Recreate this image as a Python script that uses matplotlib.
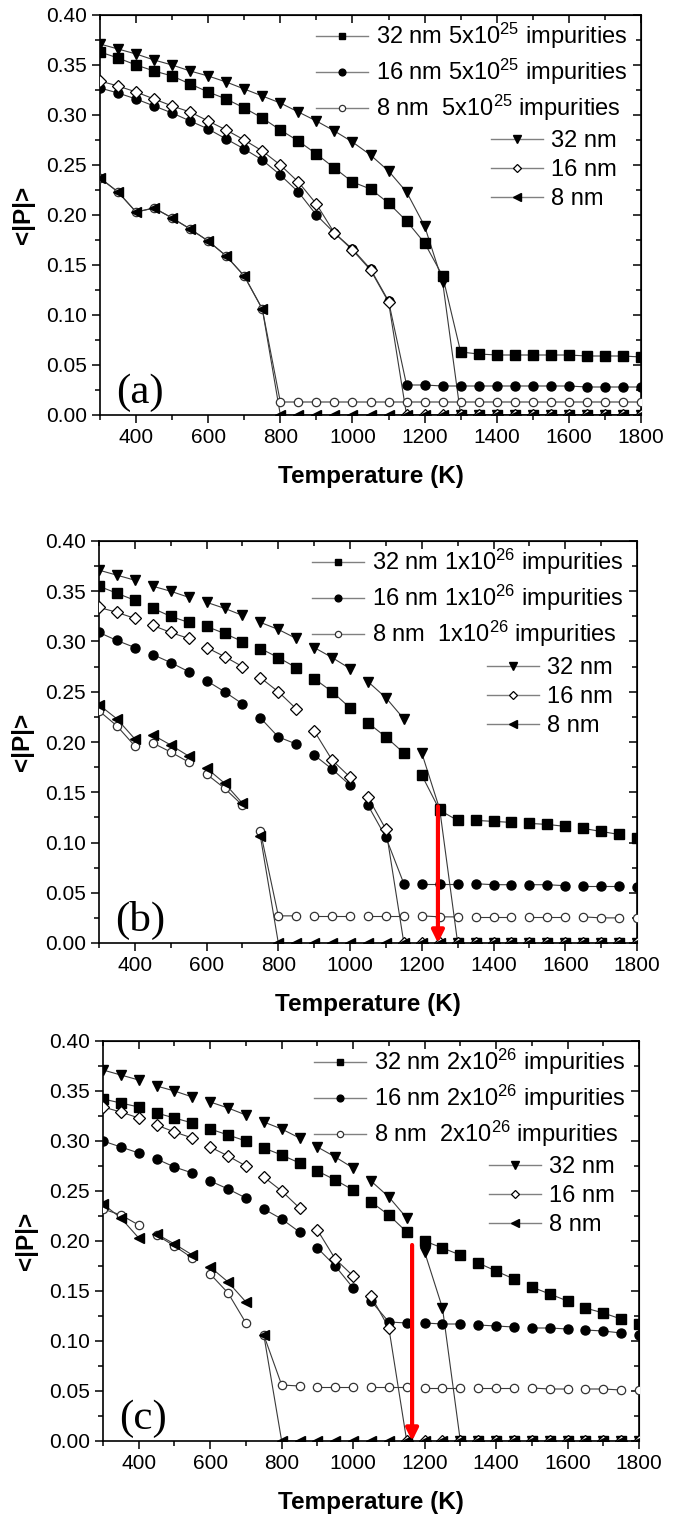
import matplotlib
matplotlib.use("Agg")
import matplotlib.pyplot as plt
from matplotlib.lines import Line2D
from matplotlib.ticker import MultipleLocator, FormatStrFormatter

plt.rcParams['font.family'] = ['Liberation Sans', 'DejaVu Sans']
plt.rcParams['mathtext.fontset'] = 'custom'
plt.rcParams['mathtext.rm'] = 'Liberation Sans'
plt.rcParams['mathtext.it'] = 'Liberation Sans:italic'

# temperature grid (K)
temps = [300, 350, 400, 450, 500, 550, 600, 650, 700, 750, 800, 850, 900, 950, 1000,
         1050, 1100, 1150, 1200, 1250, 1300, 1350, 1400, 1450, 1500, 1550, 1600,
         1650, 1700, 1750, 1800]

# pure films (same in every panel)
pure_32 = [0.371, 0.366, 0.361, 0.355, 0.350, 0.344, 0.339, 0.333, 0.326, 0.319,
           0.312, 0.303, 0.294, 0.284, 0.273, 0.260, 0.244, 0.223, 0.189, 0.133,
           0, 0, 0, 0, 0, 0, 0, 0, 0, 0, 0]
pure_16 = [0.334, 0.329, 0.323, 0.316, 0.309, 0.303, 0.294, 0.285, 0.275, 0.264,
           0.250, 0.233, 0.211, 0.182, 0.165, 0.145, 0.113,
           0, 0, 0, 0, 0, 0, 0, 0, 0, 0, 0, 0, 0, 0]
pure_8 = [0.237, 0.223, 0.203, 0.207, 0.197, 0.186, 0.174, 0.159, 0.139, 0.106,
          0, 0, 0, 0, 0, 0, 0, 0, 0, 0, 0, 0, 0, 0, 0, 0, 0, 0, 0, 0, 0]

# (a) 5x10^25 impurities
a_32imp = [0.363, 0.357, 0.350, 0.344, 0.339, 0.331, 0.323, 0.316, 0.307, 0.297,
           0.285, 0.274, 0.261, 0.247, 0.233, 0.226, 0.212, 0.194, 0.172, 0.139,
           0.063, 0.061, 0.060, 0.060, 0.060, 0.060, 0.060, 0.059, 0.059, 0.059, 0.058]
a_16imp = [0.327, 0.322, 0.316, 0.309, 0.302, 0.294, 0.286, 0.276, 0.266, 0.255,
           0.240, 0.223, 0.200, 0.182, 0.166, 0.146, 0.114,
           0.030, 0.030, 0.029, 0.029, 0.029, 0.029, 0.029, 0.029, 0.029, 0.029,
           0.028, 0.028, 0.028, 0.028]
a_8imp = [0.237, 0.223, 0.203, 0.207, 0.197, 0.186, 0.174, 0.159, 0.139, 0.106,
          0.013, 0.013, 0.013, 0.013, 0.013, 0.013, 0.013, 0.013, 0.013, 0.013, 0.013,
          0.013, 0.013, 0.013, 0.013, 0.013, 0.013, 0.013, 0.013, 0.013, 0.013]

# (b) 1x10^26 impurities
b_32imp = [0.355, 0.348, 0.341, 0.333, 0.325, 0.319, 0.315, 0.308, 0.300, 0.293,
           0.284, 0.274, 0.263, 0.250, 0.234, 0.219, 0.205, 0.189, 0.167, 0.132,
           0.122, 0.122, 0.121, 0.120, 0.119, 0.118, 0.116, 0.114, 0.111, 0.108, 0.104]
b_16imp = [0.309, 0.301, 0.294, 0.287, 0.279, 0.270, 0.261, 0.250, 0.238, 0.224,
           0.205, 0.198, 0.187, 0.173, 0.157, 0.137, 0.105,
           0.059, 0.059, 0.059, 0.059, 0.059, 0.058, 0.058, 0.058, 0.058, 0.057,
           0.057, 0.057, 0.057, 0.056]
b_8imp = [0.231, 0.216, 0.196, 0.199, 0.190, 0.180, 0.168, 0.154, 0.137, 0.111,
          0.027, 0.027, 0.027, 0.027, 0.027, 0.027, 0.027, 0.027, 0.027, 0.026, 0.026,
          0.026, 0.026, 0.026, 0.026, 0.026, 0.026, 0.026, 0.025, 0.025, 0.025]

# (c) 2x10^26 impurities
c_32imp = [0.342, 0.338, 0.334, 0.328, 0.323, 0.318, 0.312, 0.306, 0.300, 0.293,
           0.286, 0.278, 0.270, 0.261, 0.251, 0.239, 0.226, 0.209, 0.200, 0.193,
           0.186, 0.178, 0.170, 0.162, 0.154, 0.147, 0.140, 0.133, 0.128, 0.122, 0.117]
c_16imp = [0.300, 0.294, 0.288, 0.282, 0.274, 0.268, 0.260, 0.252, 0.243, 0.232,
           0.222, 0.209, 0.193, 0.175, 0.153, 0.140, 0.119, 0.118, 0.118, 0.117,
           0.117, 0.116, 0.115, 0.114, 0.113, 0.113, 0.112, 0.111, 0.110, 0.108, 0.106]
c_8imp = [0.232, 0.226, 0.216, 0.206, 0.195, 0.183, 0.167, 0.148, 0.118, 0.106,
          0.056, 0.055, 0.054, 0.054, 0.054, 0.054, 0.054, 0.054, 0.053, 0.053, 0.053,
          0.053, 0.053, 0.053, 0.053, 0.052, 0.052, 0.052, 0.052, 0.051, 0.051]

panel_tags = ['(a)', '(b)', '(c)']
doses = ['5x10$^{25}$', '1x10$^{26}$', '2x10$^{26}$']
imp_data = [(a_32imp, a_16imp, a_8imp), (b_32imp, b_16imp, b_8imp), (c_32imp, c_16imp, c_8imp)]
seg_len = [None, 3, 3]          # (b) and (c) are drawn in broken segments
arrow_x = [None, 1245, 1165]
arrow_top = [None, 0.136, 0.196]

# marker styles
imp_styles = [dict(marker='s', mfc='black', mec='black', ms=6.5),
              dict(marker='o', mfc='black', mec='black', ms=6.5),
              dict(marker='o', mfc='white', mec='#333333', ms=6, mew=0.9)]
pure_styles = [dict(marker='v', mfc='black', mec='black', ms=7.5),
               dict(marker='D', mfc='white', mec='black', ms=6, mew=0.9),
               dict(marker='<', mfc='black', mec='black', ms=7)]
LINE_C = '#3a3a3a'

boxes = [(100, 15, 641, 415), (99, 541, 637, 943), (103, 1041, 639, 1441)]
W, H = 674, 1519

fig = plt.figure(figsize=(W / 100, H / 100), dpi=100)


def draw(ax, y, st, seg):
    if seg is None:
        ax.plot(temps, y, color=LINE_C, lw=0.8, zorder=2)
    else:
        for i in range(0, len(temps), seg):
            ax.plot(temps[i:i + seg], y[i:i + seg], color=LINE_C, lw=0.8, zorder=2)
    ax.plot(temps, y, ls='none', zorder=3, **st)


for k in range(3):
    l, t, r, b = boxes[k]
    ax = fig.add_axes([l / W, 1 - b / H, (r - l) / W, (b - t) / H])
    for y, st in zip(imp_data[k], imp_styles):
        draw(ax, y, st, seg_len[k])
    for y, st in zip([pure_32, pure_16, pure_8], pure_styles):
        draw(ax, y, st, seg_len[k])

    ax.set_xlim(300, 1800)
    ax.set_ylim(0, 0.40)
    ax.xaxis.set_major_locator(MultipleLocator(200))
    ax.xaxis.set_minor_locator(MultipleLocator(100))
    ax.yaxis.set_major_locator(MultipleLocator(0.05))
    ax.yaxis.set_minor_locator(MultipleLocator(0.025))
    ax.yaxis.set_major_formatter(FormatStrFormatter('%.2f'))
    ax.tick_params(which='both', direction='out', labelsize=15, width=1.1)
    ax.tick_params(which='major', length=6)
    ax.tick_params(which='minor', length=3.5)
    for sp in ax.spines.values():
        sp.set_linewidth(1.2)

    sx = ax.secondary_xaxis('top')
    sx.xaxis.set_major_locator(MultipleLocator(200))
    sx.xaxis.set_minor_locator(MultipleLocator(100))
    sx.tick_params(which='both', direction='in', labeltop=False, width=1.1)
    sx.tick_params(which='major', length=6)
    sx.tick_params(which='minor', length=3.5)
    sy = ax.secondary_yaxis('right')
    sy.yaxis.set_major_locator(MultipleLocator(0.05))
    sy.yaxis.set_minor_locator(MultipleLocator(0.025))
    sy.tick_params(which='both', direction='in', labelright=False, width=1.1)
    sy.tick_params(which='major', length=6)
    sy.tick_params(which='minor', length=3.5)

    ax.set_xlabel('Temperature (K)', fontsize=17.5, fontweight='bold', labelpad=13)
    ax.set_ylabel('<|P|>', fontsize=17.5, fontweight='bold', labelpad=8)

    ax.text(345, 0.012, panel_tags[k], family=['Liberation Serif'], fontsize=31)

    h1 = [Line2D([], [], color='#808080', lw=1.0, **st) for st in imp_styles]
    lab1 = ['32 nm ' + doses[k] + ' impurities',
            '16 nm ' + doses[k] + ' impurities',
            '8 nm  ' + doses[k] + ' impurities']
    leg1 = ax.legend(h1, lab1, loc='upper right', bbox_to_anchor=(0.975, 0.985),
                     frameon=False, fontsize=17, handlelength=2.2, handletextpad=0.35,
                     labelspacing=0.25, borderpad=0, borderaxespad=0, markerscale=0.75)
    ax.add_artist(leg1)
    h2 = [Line2D([], [], color='#808080', lw=1.0, **st) for st in pure_styles]
    ax.legend(h2, ['32 nm', '16 nm', '8 nm'], loc='upper right',
              bbox_to_anchor=(0.955, 0.712), frameon=False, fontsize=17,
              handlelength=2.2, handletextpad=0.35, labelspacing=0.3,
              borderpad=0, borderaxespad=0, markerscale=0.75)

    if arrow_x[k] is not None:
        ax.annotate('', xy=(arrow_x[k], 0.0), xytext=(arrow_x[k], arrow_top[k]),
                    arrowprops=dict(arrowstyle='-|>', color='red', lw=3,
                                    mutation_scale=18, shrinkA=0, shrinkB=0),
                    zorder=5)

fig.savefig('out.png', dpi=100)
